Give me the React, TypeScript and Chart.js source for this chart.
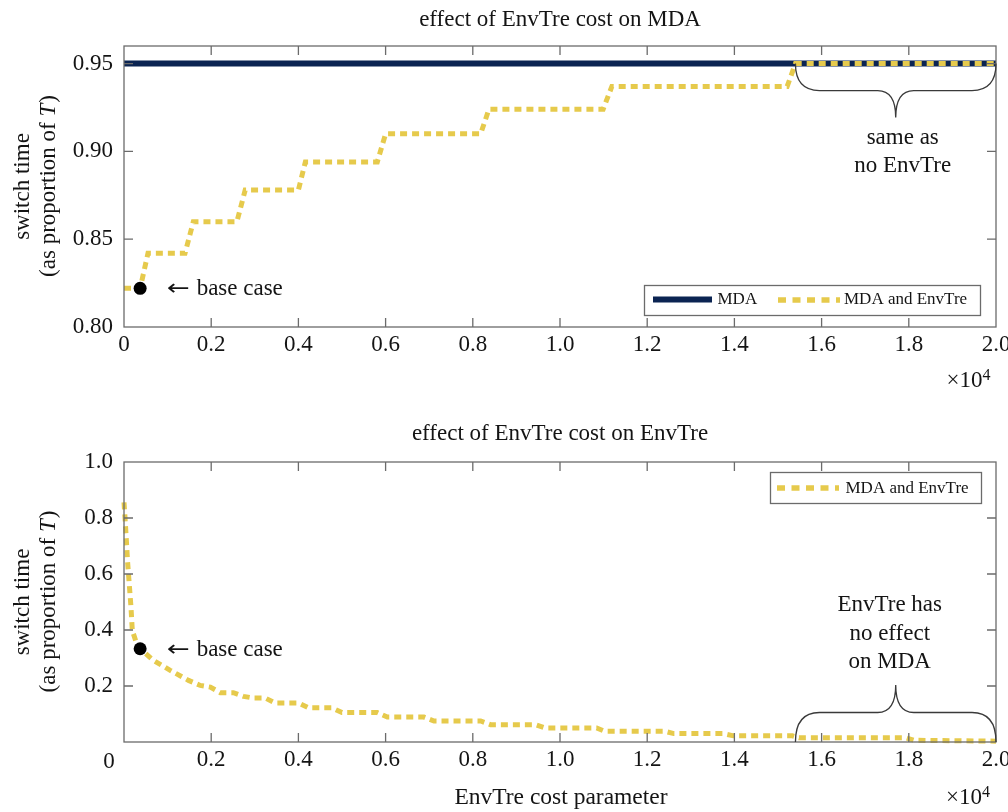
import React, { useEffect, useRef } from 'react';
import { Chart, registerables } from 'chart.js';

Chart.register(...registerables);

const SERIF = '"Liberation Serif", "Times New Roman", Times, serif';
const TEXT = '#141414';
const FRAME = '#6b6b6b';
const NAVY = '#0b2452';
const GOLD = '#e6ca4c';

// ---------- data ----------
const X_TICKS = [0, 2000, 4000, 6000, 8000, 10000, 12000, 14000, 16000, 18000, 20000];
const X_TICK_LABELS_TOP = ['0', '0.2', '0.4', '0.6', '0.8', '1.0', '1.2', '1.4', '1.6', '1.8', '2.0'];
const X_TICK_LABELS_BOTTOM = ['', '0.2', '0.4', '0.6', '0.8', '1.0', '1.2', '1.4', '1.6', '1.8', '2.0'];

const TOP_Y_TICKS = [0.8, 0.85, 0.9, 0.95];
const TOP_Y_TICK_LABELS = ['0.80', '0.85', '0.90', '0.95'];
const BOTTOM_Y_TICKS = [0.2, 0.4, 0.6, 0.8, 1.0];
const BOTTOM_Y_TICK_LABELS = ['0.2', '0.4', '0.6', '0.8', '1.0'];

// top panel: effect of EnvTre cost on MDA
const TOP_MDA_COST = [0, 20000];
const TOP_MDA_SWITCH = [0.95, 0.95];
const TOP_BOTH_COST = [0, 370, 550, 1400, 1590, 2590, 2780, 4000, 4160, 5810, 6000, 8180, 8370, 10990, 11190, 15210, 15400, 20000];
const TOP_BOTH_SWITCH = [0.822, 0.822, 0.842, 0.842, 0.86, 0.86, 0.878, 0.878, 0.894, 0.894, 0.91, 0.91, 0.924, 0.924, 0.937, 0.937, 0.95, 0.95];

// bottom panel: effect of EnvTre cost on EnvTre
const BOTTOM_BOTH_COST = [0, 20, 50, 80, 120, 160, 190, 290, 370, 670, 1060, 1480, 1750, 1980, 2210, 2510, 2740, 2970, 3240, 3470, 4010, 4240, 4770, 5000, 5810, 6040, 6880, 7110, 8180, 8410, 9430, 9660, 10840, 11030, 12410, 12610, 13750, 13980, 15330, 15480, 17930, 18120, 20000];
const BOTTOM_BOTH_SWITCH = [0.856, 0.809, 0.731, 0.648, 0.565, 0.482, 0.399, 0.351, 0.333, 0.292, 0.256, 0.22, 0.202, 0.196, 0.176, 0.176, 0.163, 0.157, 0.157, 0.139, 0.139, 0.122, 0.122, 0.105, 0.105, 0.089, 0.089, 0.075, 0.075, 0.062, 0.062, 0.05, 0.05, 0.038, 0.038, 0.03, 0.03, 0.022, 0.022, 0.015, 0.015, 0.006, 0.003];

const BASE_CASE_COST = 370;
const TOP_BASE_SWITCH = 0.822;
const BOTTOM_BASE_SWITCH = 0.333;

const BRACE_FROM_COST = 15400;
const BRACE_TO_COST = 20000;

const pts = (xs: number[], ys: number[]) => xs.map((x, i) => ({ x, y: ys[i] }));

// ---------- drawing helpers ----------
function font(size: number, italic = false) {
  return `${italic ? 'italic ' : ''}${size}px ${SERIF}`;
}

function drawBrace(ctx: CanvasRenderingContext2D, x0: number, x1: number, yEnd: number, yMid: number, yTip: number, rEnd: number, rTip: number) {
  const xm = (x0 + x1) / 2;
  ctx.beginPath();
  ctx.moveTo(x0, yEnd);
  ctx.quadraticCurveTo(x0, yMid, x0 + rEnd, yMid);
  ctx.lineTo(xm - rTip, yMid);
  ctx.quadraticCurveTo(xm, yMid, xm, yTip);
  ctx.quadraticCurveTo(xm, yMid, xm + rTip, yMid);
  ctx.lineTo(x1 - rEnd, yMid);
  ctx.quadraticCurveTo(x1, yMid, x1, yEnd);
  ctx.stroke();
}

function drawYTitle(ctx: CanvasRenderingContext2D, cy: number) {
  ctx.save();
  ctx.fillStyle = TEXT;
  ctx.textBaseline = 'alphabetic';
  ctx.textAlign = 'center';
  ctx.translate(28.5, cy);
  ctx.rotate(-Math.PI / 2);
  ctx.font = font(23);
  ctx.fillText('switch time', 0, 0);
  ctx.restore();

  ctx.save();
  ctx.fillStyle = TEXT;
  ctx.textBaseline = 'alphabetic';
  ctx.textAlign = 'left';
  ctx.translate(55, cy);
  ctx.rotate(-Math.PI / 2);
  const a = '(as proportion of ';
  const t = 'T';
  const b = ')';
  ctx.font = font(23);
  const wa = ctx.measureText(a).width;
  const wb = ctx.measureText(b).width;
  ctx.font = font(23, true);
  const wt = ctx.measureText(t).width;
  const start = -(wa + wt + wb) / 2;
  ctx.font = font(23);
  ctx.fillText(a, start, 0);
  ctx.font = font(23, true);
  ctx.fillText(t, start + wa, 0);
  ctx.font = font(23);
  ctx.fillText(b, start + wa + wt + 1, 0);
  ctx.restore();
}

function drawBaseCase(ctx: CanvasRenderingContext2D, x: number, baseline: number) {
  ctx.save();
  ctx.fillStyle = TEXT;
  ctx.textAlign = 'left';
  ctx.textBaseline = 'alphabetic';
  // arrow glyph, stretched to the long thin arrow of the original
  ctx.font = `22px "DejaVu Sans", ${SERIF}`;
  const arrow = '\u2190';
  const wa = ctx.measureText(arrow).width || 20;
  ctx.save();
  ctx.translate(x, baseline);
  ctx.scale(23 / wa, 1);
  ctx.fillText(arrow, 0, 0);
  ctx.restore();
  ctx.font = font(23);
  ctx.fillText('base case', x + 30, baseline);
  ctx.restore();
}

function drawTimesTen(ctx: CanvasRenderingContext2D, x: number, baseline: number) {
  ctx.save();
  ctx.fillStyle = TEXT;
  ctx.textAlign = 'left';
  ctx.textBaseline = 'alphabetic';
  ctx.font = font(23);
  const s = '\u00d710';
  ctx.fillText(s, x, baseline);
  const w = ctx.measureText(s).width;
  ctx.font = font(16);
  ctx.fillText('4', x + w, baseline - 7);
  ctx.restore();
}

function drawLegendSwatchDash(ctx: CanvasRenderingContext2D, x0: number, x1: number, y: number) {
  ctx.save();
  ctx.strokeStyle = GOLD;
  ctx.lineWidth = 5.5;
  ctx.lineCap = 'butt';
  ctx.setLineDash([8, 6.5]);
  ctx.beginPath();
  ctx.moveTo(x0, y);
  ctx.lineTo(x1, y);
  ctx.stroke();
  ctx.restore();
}

type Kind = 'top' | 'bottom';

function makeOverlay(kind: Kind) {
  return {
    id: 'overlay',
    afterDatasetsDraw(chart: any) {
      const ctx: CanvasRenderingContext2D = chart.ctx;
      const { left, right, top, bottom } = chart.chartArea;
      const xs = chart.scales.x;
      const ys = chart.scales.y;
      const yTicks = kind === 'top' ? TOP_Y_TICKS : BOTTOM_Y_TICKS;
      ctx.save();
      ctx.strokeStyle = FRAME;
      ctx.lineWidth = 1.3;
      ctx.strokeRect(left, top, right - left, bottom - top);
      ctx.beginPath();
      for (const v of X_TICKS) {
        const px = xs.getPixelForValue(v);
        if (px <= left + 1 || px >= right - 1) continue;
        ctx.moveTo(px, bottom);
        ctx.lineTo(px, bottom - 9);
        ctx.moveTo(px, top);
        ctx.lineTo(px, top + 9);
      }
      for (const v of yTicks) {
        const py = ys.getPixelForValue(v);
        if (py <= top + 1 || py >= bottom - 1) continue;
        ctx.moveTo(left, py);
        ctx.lineTo(left + 9, py);
        ctx.moveTo(right, py);
        ctx.lineTo(right - 9, py);
      }
      ctx.stroke();
      ctx.restore();
    },
    afterDraw(chart: any) {
      const ctx: CanvasRenderingContext2D = chart.ctx;
      const { left, right, top, bottom } = chart.chartArea;
      const xs = chart.scales.x;
      const ys = chart.scales.y;
      const cx = (left + right) / 2;
      const cy = (top + bottom) / 2;

      ctx.save();
      ctx.fillStyle = TEXT;
      ctx.textBaseline = 'alphabetic';

      // panel title
      ctx.font = font(23);
      ctx.textAlign = 'center';
      ctx.fillText(kind === 'top' ? 'effect of EnvTre cost on MDA' : 'effect of EnvTre cost on EnvTre', cx, kind === 'top' ? 26 : 40);

      // y title
      drawYTitle(ctx, cy);

      // base case label
      const dotX = xs.getPixelForValue(BASE_CASE_COST);
      const dotY = ys.getPixelForValue(kind === 'top' ? TOP_BASE_SWITCH : BOTTOM_BASE_SWITCH);
      drawBaseCase(ctx, dotX + 26.5, dotY + 7);

      // brace
      const bx0 = xs.getPixelForValue(BRACE_FROM_COST);
      const bx1 = xs.getPixelForValue(BRACE_TO_COST);
      const tipX = (bx0 + bx1) / 2;
      ctx.strokeStyle = '#3a3a3a';
      ctx.fillStyle = TEXT;
      ctx.font = font(23);
      ctx.lineWidth = 1.3;
      if (kind === 'top') {
        const yEnd = ys.getPixelForValue(0.95);
        drawBrace(ctx, bx0, bx1, yEnd, yEnd + 27, yEnd + 54, 24, 18);
        ctx.textAlign = 'center';
        ctx.fillText('same as', tipX + 7, yEnd + 80);
        ctx.fillText('no EnvTre', tipX + 7, yEnd + 108);
      } else {
        const yEnd = bottom;
        drawBrace(ctx, bx0, bx1, yEnd, yEnd - 29.5, yEnd - 57, 24, 18);
        ctx.textAlign = 'center';
        ctx.fillText('EnvTre has', tipX - 6, yEnd - 131);
        ctx.fillText('no effect', tipX - 6, yEnd - 102);
        ctx.fillText('on MDA', tipX - 6, yEnd - 74);
      }

      // legend
      ctx.lineWidth = 1.3;
      ctx.strokeStyle = FRAME;
      if (kind === 'top') {
        ctx.fillStyle = '#ffffff';
        ctx.fillRect(644.5, 285.5, 336, 30);
        ctx.strokeRect(644.5, 285.5, 336, 30);
        ctx.save();
        ctx.strokeStyle = NAVY;
        ctx.lineWidth = 6;
        ctx.beginPath();
        ctx.moveTo(653, 299.5);
        ctx.lineTo(712, 299.5);
        ctx.stroke();
        ctx.restore();
        drawLegendSwatchDash(ctx, 778, 840, 300);
        ctx.fillStyle = TEXT;
        ctx.font = font(17);
        ctx.textAlign = 'left';
        ctx.fillText('MDA', 717.5, 304);
        ctx.fillText('MDA and EnvTre', 844, 304);
      } else {
        ctx.fillStyle = '#ffffff';
        ctx.fillRect(770.5, 72.5, 211, 31);
        ctx.strokeRect(770.5, 72.5, 211, 31);
        drawLegendSwatchDash(ctx, 777, 839, 88);
        ctx.fillStyle = TEXT;
        ctx.font = font(17);
        ctx.textAlign = 'left';
        ctx.fillText('MDA and EnvTre', 845.5, 93.3);
      }

      // scale multiplier and axis titles
      if (kind === 'top') {
        drawTimesTen(ctx, 946.5, 386.7);
      } else {
        drawTimesTen(ctx, 946, 404);
        ctx.fillStyle = TEXT;
        ctx.font = font(23.5);
        ctx.textAlign = 'center';
        ctx.fillText('EnvTre cost parameter', 561, 404.3);
        // the shared origin label
        ctx.font = font(23);
        ctx.fillText('0', 109, 367.8);
      }
      ctx.restore();
    },
  };
}

function buildConfig(kind: Kind): any {
  const isTop = kind === 'top';
  const yTicks = isTop ? TOP_Y_TICKS : BOTTOM_Y_TICKS;
  const yLabels = isTop ? TOP_Y_TICK_LABELS : BOTTOM_Y_TICK_LABELS;
  const xLabels = isTop ? X_TICK_LABELS_TOP : X_TICK_LABELS_BOTTOM;

  const datasets: any[] = [
    {
      type: 'scatter',
      label: 'base case',
      data: [{ x: BASE_CASE_COST, y: isTop ? TOP_BASE_SWITCH : BOTTOM_BASE_SWITCH }],
      pointRadius: 6.5,
      pointBackgroundColor: '#000',
      pointBorderColor: '#000',
      pointBorderWidth: 0,
      showLine: false,
      order: 0,
    },
    {
      type: 'line',
      label: 'MDA and EnvTre',
      data: isTop ? pts(TOP_BOTH_COST, TOP_BOTH_SWITCH) : pts(BOTTOM_BOTH_COST, BOTTOM_BOTH_SWITCH),
      borderColor: GOLD,
      borderWidth: 5,
      borderDash: [7, 5],
      borderCapStyle: 'butt',
      borderJoinStyle: 'miter',
      pointRadius: 0,
      tension: 0,
      fill: false,
      order: 1,
      clip: 6,
    },
  ];
  if (isTop) {
    datasets.push({
      type: 'line',
      label: 'MDA',
      data: pts(TOP_MDA_COST, TOP_MDA_SWITCH),
      borderColor: NAVY,
      borderWidth: 6,
      pointRadius: 0,
      tension: 0,
      fill: false,
      order: 2,
      clip: 6,
    });
  }

  return {
    type: 'line',
    data: { datasets },
    options: {
      animation: false,
      responsive: false,
      devicePixelRatio: 1,
      events: [],
      layout: {
        autoPadding: false,
        padding: { left: 0, right: 12, top: isTop ? 46 : 62, bottom: 0 },
      },
      plugins: {
        legend: { display: false },
        tooltip: { enabled: false },
        title: { display: false },
      },
      scales: {
        x: {
          type: 'linear',
          min: 0,
          max: 20000,
          grid: { display: false, drawTicks: false },
          border: { display: false },
          ticks: {
            color: TEXT,
            font: { family: SERIF, size: 23 },
            padding: isTop ? 4.5 : 4,
            maxRotation: 0,
            autoSkip: false,
            callback: (_v: number, i: number) => xLabels[i],
          },
          afterBuildTicks: (s: any) => {
            s.ticks = X_TICKS.map((v) => ({ value: v }));
          },
          afterFit: (s: any) => {
            s.height = isTop ? 73 : 70;
            s.paddingLeft = 0;
            s.paddingRight = 0;
          },
        },
        y: {
          type: 'linear',
          min: isTop ? 0.8 : 0,
          max: isTop ? 0.96 : 1.0,
          grid: { display: false, drawTicks: false },
          border: { display: false },
          ticks: {
            color: TEXT,
            font: { family: SERIF, size: 23 },
            padding: 11,
            autoSkip: false,
            callback: (_v: number, i: number) => yLabels[i],
          },
          afterBuildTicks: (s: any) => {
            s.ticks = yTicks.map((v) => ({ value: v }));
          },
          afterFit: (s: any) => {
            s.width = 124;
            s.paddingTop = 0;
            s.paddingBottom = 0;
          },
        },
      },
    },
    plugins: [makeOverlay(kind)],
  };
}

function Panel({ kind, top, height }: { kind: Kind; top: number; height: number }) {
  const ref = useRef<HTMLCanvasElement | null>(null);
  useEffect(() => {
    if (!ref.current) return;
    const chart = new Chart(ref.current, buildConfig(kind));
    return () => chart.destroy();
  }, [kind]);
  return (
    <canvas
      ref={ref}
      width={1008}
      height={height}
      style={{ position: 'absolute', left: 0, top, width: 1008, height, display: 'block' }}
    />
  );
}

export default function App() {
  return (
    <div style={{ position: 'absolute', left: 0, top: 0, width: 1008, height: 812, background: '#fff', overflow: 'hidden' }}>
      <Panel kind="top" top={0} height={400} />
      <Panel kind="bottom" top={400} height={412} />
    </div>
  );
}
